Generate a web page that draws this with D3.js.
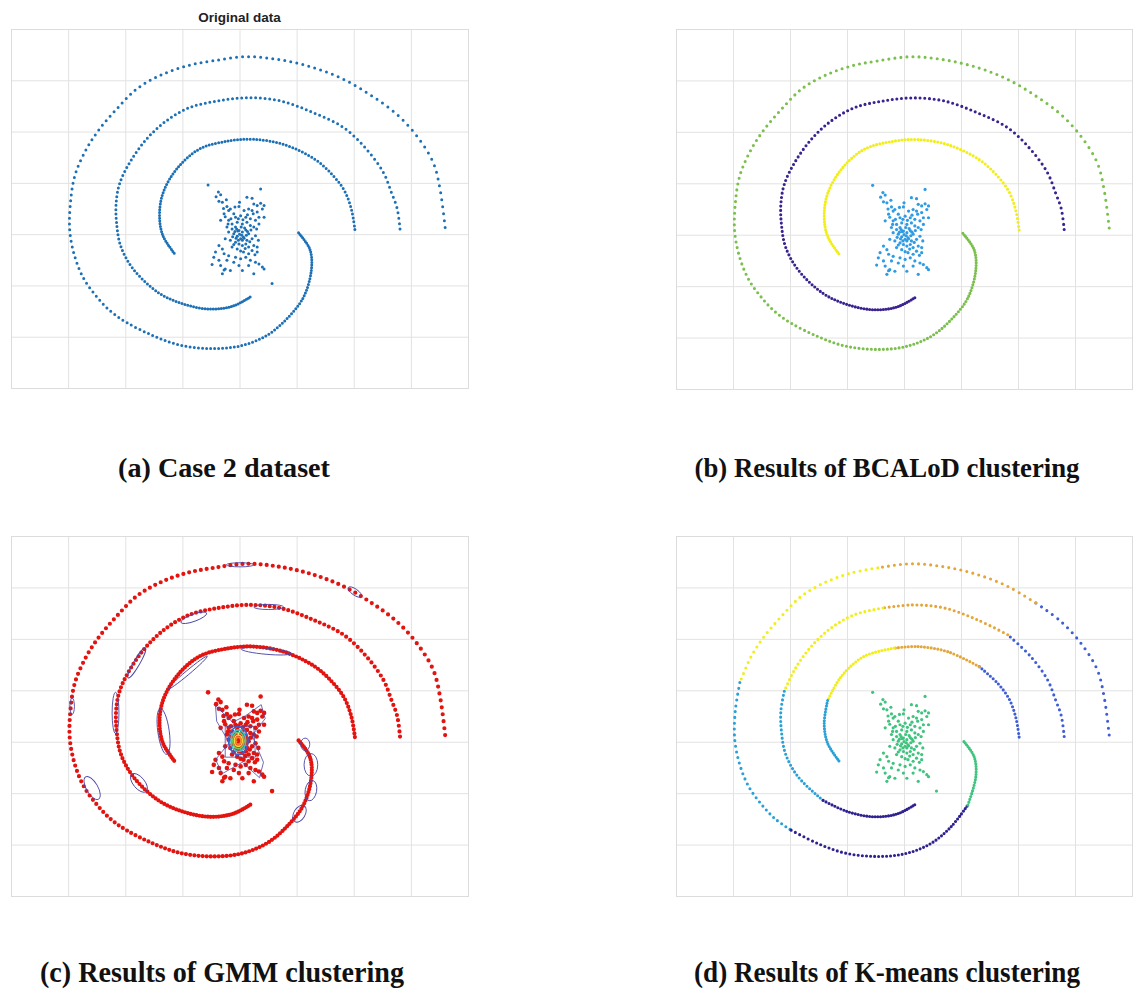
<!DOCTYPE html>
<html>
<head>
<meta charset="utf-8">
<script src="https://cdn.jsdelivr.net/npm/d3@7"></script>
<style>
  body { margin: 0; background: #fff; }
</style>
</head>
<body>
<svg id="fig" width="1136" height="992"></svg>
<script>
// spiral arms, anchor points (grid units, origin = centre gridlines)
const outerArm = [[3.60,0.13],[3.51,0.88],[3.39,1.40],[3.10,1.92],[2.75,2.34],[2.31,2.70],[1.82,3.02],
  [1.29,3.25],[0.71,3.40],[0.12,3.46],[-0.46,3.38],[-0.93,3.28],[-1.40,3.09],[-1.80,2.83],[-2.15,2.44],
  [-2.45,2.05],[-2.68,1.66],[-2.88,1.15],[-2.96,0.60],[-2.97,0.05],[-2.88,-0.45],[-2.72,-0.88],[-2.50,-1.22],
  [-2.26,-1.50],[-1.98,-1.72],[-1.51,-1.98],[-1.05,-2.16],[-0.52,-2.23],[0.01,-2.18],[0.47,-1.98],
  [0.82,-1.66],[1.12,-1.23],[1.26,-0.68],[1.23,-0.29],[1.03,0.03]];
const middleArm = [[2.81,0.10],[2.76,0.50],[2.66,0.81],[2.52,1.20],[2.22,1.66],[1.82,2.08],[1.29,2.37],
  [0.71,2.60],[0.15,2.66],[-0.37,2.60],[-0.87,2.47],[-1.28,2.21],[-1.63,1.85],[-1.92,1.40],[-2.10,0.98],
  [-2.16,0.60],[-2.15,0.20],[-2.08,-0.23],[-1.86,-0.68],[-1.42,-1.14],[-0.99,-1.36],[-0.52,-1.46],
  [-0.11,-1.40],[0.21,-1.21]];
const innerArm = [[2.02,0.09],[1.96,0.48],[1.84,0.84],[1.64,1.14],[1.32,1.46],[0.77,1.75],[0.24,1.85],
  [-0.17,1.82],[-0.70,1.66],[-1.10,1.27],[-1.34,0.80],[-1.40,0.36],[-1.34,-0.03],[-1.13,-0.39]];

// central noise blob
const blob = [[-0.55,0.96],[0.37,0.88],[-0.37,0.82],[-0.33,0.77],[-0.41,0.73],[-0.23,0.67],[0.13,0.72],
  [-0.36,0.64],[-0.30,0.62],[-0.22,0.54],[-0.16,0.49],[-0.08,0.53],[-0.01,0.54],[0.08,0.46],[0.16,0.49],
  [0.25,0.59],[0.31,0.56],[0.37,0.60],[0.43,0.56],[0.40,0.49],[0.22,0.46],[0.31,0.43],[-0.19,0.46],
  [-0.27,0.40],[-0.10,0.40],[-0.25,0.34],[-0.07,0.33],[0.02,0.36],[0.11,0.33],[0.19,0.30],[0.28,0.27],
  [0.34,0.33],[0.43,0.33],[-0.33,0.27],[-0.19,0.27],[-0.13,0.20],[-0.04,0.23],[0.05,0.20],[0.13,0.23],
  [0.19,0.17],[0.34,0.20],[-0.22,0.14],[-0.13,0.10],[-0.07,0.14],[-0.01,0.07],[0.05,0.04],[0.11,0.08],
  [0.16,0.01],[-0.19,0.04],[-0.10,0.01],[-0.04,-0.04],[0.02,-0.09],[0.07,-0.06],[0.13,-0.12],[0.22,-0.09],
  [0.28,-0.03],[-0.25,-0.09],[-0.16,-0.12],[-0.07,-0.16],[-0.01,-0.19],[0.05,-0.22],[0.11,-0.19],
  [0.16,-0.25],[0.25,-0.22],[0.31,-0.25],[-0.13,-0.25],[-0.04,-0.29],[0.02,-0.33],[0.07,-0.35],
  [0.16,-0.38],[0.22,-0.32],[0.31,-0.35],[-0.36,-0.22],[-0.30,-0.29],[-0.42,-0.35],[-0.27,-0.38],
  [-0.19,-0.42],[-0.07,-0.45],[0.02,-0.48],[0.11,-0.45],[0.19,-0.51],[0.28,-0.55],[-0.45,-0.45],
  [-0.36,-0.51],[-0.22,-0.51],[-0.10,-0.55],[-0.01,-0.61],[0.16,-0.61],[0.34,-0.58],[0.40,-0.64],
  [-0.48,-0.59],[-0.33,-0.61],[-0.25,-0.68],[-0.16,-0.71],[0.05,-0.71],[0.25,-0.77],[0.43,-0.68],
  [-0.30,-0.77],[-0.27,-0.70],[-0.05,0.10],[0.00,0.00],[0.04,-0.02],[-0.08,0.05],[0.09,0.12],
  [0.12,-0.02],[-0.12,-0.05],[0.06,0.28],[-0.02,0.30],[0.14,0.38],[0.24,0.40],[0.20,0.08],[0.25,0.14],
  [-0.15,0.30],[0.30,0.10],[0.10,-0.28],[0.18,-0.15],[-0.10,-0.20],[0.05,-0.12],[0.27,-0.40],
  [0.33,-0.12],[-0.20,0.20],[0.00,0.62],[0.22,0.70],[-0.28,0.50],[-0.03,0.06],[0.03,0.14],[0.08,-0.08],
  [-0.06,-0.08],[0.14,0.05],[-0.02,-0.12]];
const blobOutlier = [[0.57,-0.96]];

// cluster labels: [arm, first anchor, last anchor, cluster]
const bcalodParts = [["outer",0,34,"green"],["middle",0,23,"purple"],["inner",0,13,"yellow"]];
const kmeansParts = [
  ["outer",0,5,"blue"],["outer",5,10,"orange"],["outer",10,17,"yellow"],["outer",17,24,"cyan"],
  ["outer",24,31,"navy"],["outer",31,34,"green"],
  ["middle",0,5,"blue"],["middle",5,9,"orange"],["middle",9,14,"yellow"],["middle",14,19,"cyan"],
  ["middle",19,23,"navy"],
  ["inner",0,4,"blue"],["inner",4,7,"orange"],["inner",7,10,"yellow"],["inner",10,13,"cyan"]];

// GMM component outlines: [cx, cy, rx, ry, angle]
const gmmLoops = [[0.01,3.44,0.24,0.04,0],[2.02,2.91,0.14,0.06,35],[0.51,2.62,0.26,0.05,0],
  [-0.80,2.41,0.24,0.07,-20],[0.47,1.76,0.44,0.06,5],[-0.91,1.34,0.45,0.04,-40],[-1.80,1.53,0.30,0.06,-60],
  [-2.17,0.56,0.06,0.40,0],[-1.33,0.20,0.10,0.45,-8],[-2.93,0.69,0.04,0.16,0],[-2.58,-0.90,0.10,0.25,-30],
  [-1.76,-0.80,0.10,0.22,-40],[1.15,-0.05,0.08,0.12,0],[1.25,-0.45,0.12,0.22,0],[1.25,-0.95,0.10,0.20,10],
  [1.05,-1.40,0.10,0.18,30]];
const gmmWeb = [
  [[-0.42,0.70],[-0.12,0.38],[0.10,0.50],[0.38,0.72],[0.45,0.45],[0.22,0.12],[0.42,-0.40],[0.35,-0.70],
   [0.05,-0.40],[-0.30,-0.62],[-0.42,-0.35],[-0.18,-0.02],[-0.40,0.40],[-0.42,0.70]],
  [[-0.25,0.30],[0.25,0.30],[0.28,-0.30],[-0.25,-0.30],[-0.25,0.30]]];
const gmmCore = [[-0.02,0.02,0.17,0.27],[-0.02,0.02,0.13,0.21],[-0.02,0.02,0.10,0.16],
  [-0.02,0.02,0.07,0.11],[-0.02,0.02,0.045,0.07]];

const gridX = [-3,-2,-1,0,1,2,3];
const gridY = [-2,-1,0,1,2,3];
const captions = ["(a) Case 2 dataset","(b) Results of BCALoD clustering",
  "(c) Results of GMM clustering","(d) Results of K-means clustering"];

const arms = { outer: outerArm, middle: middleArm, inner: innerArm };
const ink = {
  base: "#1c70b6", green: "#7bbf4c", purple: "#3a2391", yellow: "#f2ee18", sky: "#2d9ce5",
  blue: "#3f5dd6", orange: "#e4a63a", cyan: "#29a1d7", navy: "#2e2190", kgreen: "#3ec47f",
  red: "#e3140f", contour: "#4a46a6"
};
const kInk = { blue: ink.blue, orange: ink.orange, yellow: ink.yellow, cyan: ink.cyan, navy: ink.navy, green: ink.kgreen };
const coreInk = ["#3a5fd0", "#33c3dc", "#6acb5a", "#f0d93a", "#f08a2c"];

const panels = [
  { key: "a", x: 11, y: 29, w: 457, h: 359, cap: [224, 477, 212] },
  { key: "b", x: 676, y: 29, w: 456, h: 360, cap: [887, 477, 385] },
  { key: "c", x: 11, y: 536, w: 457, h: 360, cap: [222, 982, 364] },
  { key: "d", x: 676, y: 536, w: 456, h: 360, cap: [887, 982, 386] }
];

const svg = d3.select("#fig");

function dotted(g, pts, color, size, x, y) {
  const line = d3.line().x(d => x(d[0])).y(d => y(d[1])).curve(d3.curveCatmullRom.alpha(0.5));
  const p = g.append("path")
    .attr("d", line(pts))
    .attr("fill", "none")
    .attr("stroke", color)
    .attr("stroke-width", size)
    .attr("stroke-linecap", "round");
  // dots get closer together toward the spiral centre
  const node = p.node(), L = node.getTotalLength();
  const cx = x(0), cy = y(0);
  const gaps = [];
  let s = 0;
  while (s <= L) {
    const q = node.getPointAtLength(s);
    const gap = Math.max(1.7, Math.hypot(q.x - cx, q.y - cy) * 0.034);
    gaps.push(gap);
    s += gap;
  }
  p.attr("stroke-dasharray", gaps.map(v => "0," + v.toFixed(2)).join(","));
}

panels.forEach((pn, i) => {
  const x = d3.scaleLinear().domain([-4, 4]).range([0, pn.w]);
  const y = d3.scaleLinear().domain([-3, 4]).range([pn.h, 0]);
  const g = svg.append("g").attr("transform", `translate(${pn.x},${pn.y})`);

  // grid
  g.append("g")
    .attr("transform", `translate(0,${pn.h})`)
    .call(d3.axisBottom(x).tickValues(gridX).tickSize(-pn.h).tickFormat(""))
    .call(a => a.select(".domain").remove())
    .selectAll("line").attr("stroke", "#e2e2e2");
  g.append("g")
    .call(d3.axisLeft(y).tickValues(gridY).tickSize(-pn.w).tickFormat(""))
    .call(a => a.select(".domain").remove())
    .selectAll("line").attr("stroke", "#e2e2e2");
  g.append("rect")
    .attr("x", 0.5).attr("y", 0.5).attr("width", pn.w).attr("height", pn.h)
    .attr("fill", "none").attr("stroke", "#dcdcdc");

  if (pn.key === "a") {
    Object.values(arms).forEach(a => dotted(g, a, ink.base, 3.0, x, y));
    g.append("g").selectAll("circle").data(blob.concat(blobOutlier)).join("circle")
      .attr("cx", d => x(d[0])).attr("cy", d => y(d[1])).attr("r", 1.5).attr("fill", ink.base);
    g.append("text")
      .attr("x", x(0)).attr("y", -7)
      .attr("text-anchor", "middle")
      .style("font-family", "Liberation Sans, Arial, sans-serif")
      .style("font-weight", "bold")
      .style("font-size", "13.5px")
      .attr("fill", "#222")
      .text("Original data");
  }

  if (pn.key === "b") {
    bcalodParts.forEach(([arm, a, b, c]) => dotted(g, arms[arm].slice(a, b + 1), ink[c], 3.1, x, y));
    g.append("g").selectAll("circle").data(blob).join("circle")
      .attr("cx", d => x(d[0])).attr("cy", d => y(d[1])).attr("r", 1.6).attr("fill", ink.sky);
  }

  if (pn.key === "c") {
    Object.values(arms).forEach(a => dotted(g, a, ink.red, 4.2, x, y));
    g.append("g").selectAll("circle").data(blob.concat(blobOutlier)).join("circle")
      .attr("cx", d => x(d[0])).attr("cy", d => y(d[1])).attr("r", 2.3).attr("fill", ink.red);
    const kx = x(1) - x(0), ky = y(0) - y(1);
    g.append("g").selectAll("ellipse").data(gmmLoops).join("ellipse")
      .attr("transform", d => `translate(${x(d[0])},${y(d[1])}) rotate(${d[4]})`)
      .attr("rx", d => d[2] * kx).attr("ry", d => d[3] * ky)
      .attr("fill", "none").attr("stroke", ink.contour).attr("stroke-width", 0.9);
    const web = d3.line().x(d => x(d[0])).y(d => y(d[1]));
    g.append("g").selectAll("path").data(gmmWeb).join("path")
      .attr("d", web).attr("fill", "none").attr("stroke", ink.contour).attr("stroke-width", 0.8);
    g.append("g").selectAll("ellipse").data(gmmCore).join("ellipse")
      .attr("cx", d => x(d[0])).attr("cy", d => y(d[1]))
      .attr("rx", d => d[2] * kx).attr("ry", d => d[3] * ky)
      .attr("fill", "none").attr("stroke", (d, j) => coreInk[j]).attr("stroke-width", 1.6);
  }

  if (pn.key === "d") {
    kmeansParts.forEach(([arm, a, b, c]) => dotted(g, arms[arm].slice(a, b + 1), kInk[c], 3.1, x, y));
    g.append("g").selectAll("circle").data(blob.concat(blobOutlier)).join("circle")
      .attr("cx", d => x(d[0])).attr("cy", d => y(d[1])).attr("r", 1.6).attr("fill", ink.kgreen);
  }

  // caption
  svg.append("text")
    .attr("x", pn.cap[0]).attr("y", pn.cap[1])
    .attr("text-anchor", "middle")
    .attr("textLength", pn.cap[2])
    .attr("lengthAdjust", "spacingAndGlyphs")
    .style("font-family", "Liberation Serif, Times New Roman, serif")
    .style("font-weight", "bold")
    .style("font-size", i < 2 ? "27px" : "29px")
    .attr("fill", "#111")
    .text(captions[i]);
});
</script>
</body>
</html>
